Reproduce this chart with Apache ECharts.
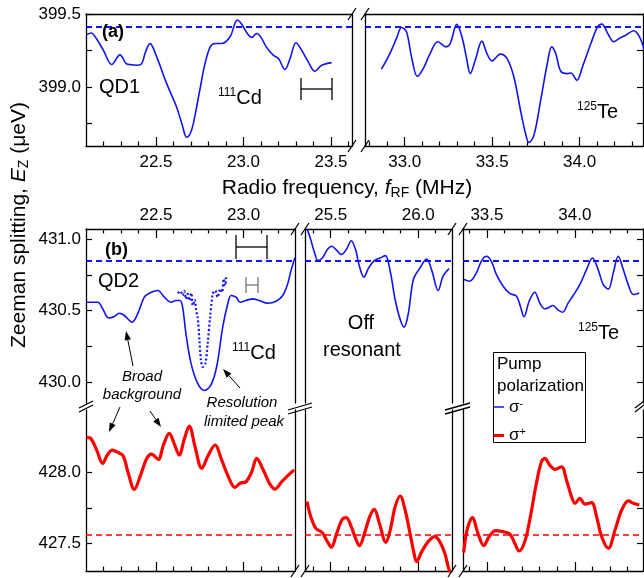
<!DOCTYPE html>
<html>
<head>
<meta charset="utf-8">
<title>Zeeman splitting vs RF frequency</title>
<script src="https://cdn.jsdelivr.net/npm/echarts@6.0.0/dist/echarts.min.js"></script>
<style>
  html, body { margin: 0; padding: 0; background: #fff; }
  #chart { width: 644px; height: 578px; }
</style>
</head>
<body>
<div id="chart"></div>
<script>
// ---- values ----
// (a) QD1, 111Cd window
const qd1CdFreq = [22.105, 22.13, 22.16, 22.20, 22.247, 22.294, 22.33, 22.36, 22.39, 22.418, 22.44, 22.466, 22.504, 22.561, 22.618, 22.65, 22.675, 22.695, 22.713, 22.75, 22.78, 22.81, 22.837, 22.875, 22.923, 22.965, 22.99, 23.02, 23.047, 23.075, 23.10, 23.13, 23.17, 23.20, 23.237, 23.266, 23.30, 23.332, 23.37, 23.408, 23.447, 23.504];
const qd1CdEz = [399.36, 399.37, 399.33, 399.25, 399.154, 399.22, 399.16, 399.152, 399.149, 399.16, 399.24, 399.297, 399.206, 399.023, 398.862, 398.74, 398.656, 398.68, 398.748, 398.977, 399.16, 399.275, 399.298, 399.298, 399.344, 399.459, 399.43, 399.37, 399.34, 399.366, 399.34, 399.275, 399.218, 399.195, 399.12, 399.195, 399.303, 399.252, 399.172, 399.108, 399.149, 399.167];
// (a) QD1, 125Te window
const qd1TeFreq = [32.867, 32.915, 32.953, 32.982, 33.01, 33.039, 33.072, 33.106, 33.145, 33.189, 33.237, 33.26, 33.298, 33.327, 33.352, 33.375, 33.403, 33.441, 33.47, 33.499, 33.547, 33.585, 33.624, 33.662, 33.691, 33.71, 33.738, 33.777, 33.815, 33.84, 33.863, 33.892, 33.93, 33.95, 33.984, 34.016, 34.064, 34.103, 34.127, 34.16, 34.195, 34.227, 34.265, 34.309, 34.342, 34.37];
const qd1TeEz = [399.122, 399.229, 399.333, 399.408, 399.378, 399.206, 399.073, 399.126, 399.229, 399.31, 399.275, 399.298, 399.429, 399.344, 399.206, 399.092, 399.183, 399.314, 399.229, 399.179, 399.225, 399.195, 399.069, 398.839, 398.679, 398.62, 398.667, 398.908, 399.161, 399.275, 399.229, 399.108, 399.092, 399.096, 399.046, 399.138, 399.298, 399.413, 399.431, 399.367, 399.31, 399.333, 399.356, 399.385, 399.344, 399.252];
const qd1Ref = 399.413;

// (b) QD2, sigma- pump
const qd2CdFreq = [22.1, 22.167, 22.195, 22.23, 22.262, 22.29, 22.319, 22.363, 22.395, 22.433, 22.462, 22.51, 22.548, 22.586, 22.614, 22.637, 22.652, 22.671, 22.7, 22.738, 22.776, 22.814, 22.847, 22.881, 22.91, 22.929, 22.957, 22.98, 23.014, 23.052, 23.09, 23.138, 23.186, 23.224, 23.252, 23.271, 23.294];
const qd2CdEz = [430.558, 430.558, 430.512, 430.447, 430.458, 430.481, 430.465, 430.419, 430.477, 430.593, 430.621, 430.64, 430.593, 430.558, 430.57, 430.57, 430.523, 430.337, 430.13, 429.99, 429.94, 429.98, 430.11, 430.384, 430.547, 430.605, 430.593, 430.558, 430.57, 430.581, 430.57, 430.551, 430.565, 430.605, 430.686, 430.779, 430.87];
const qd2CdFineFreq = [22.624, 22.639, 22.652, 22.662, 22.671, 22.681, 22.69, 22.702, 22.71, 22.721, 22.729, 22.738, 22.748, 22.757, 22.767, 22.782, 22.795, 22.809, 22.824, 22.839, 22.852, 22.866, 22.877, 22.887, 22.896, 22.9];
const qd2CdFineEz = [430.621, 430.635, 430.605, 430.635, 430.581, 430.616, 430.57, 430.621, 430.535, 430.574, 430.5, 430.453, 430.291, 430.151, 430.105, 430.128, 430.267, 430.453, 430.616, 430.64, 430.593, 430.651, 430.628, 430.721, 430.674, 430.733];
const qd2OffFreq = [25.367, 25.386, 25.405, 25.428, 25.452, 25.481, 25.504, 25.534, 25.56, 25.589, 25.617, 25.642, 25.664, 25.689, 25.717, 25.749, 25.783, 25.812, 25.84, 25.868, 25.897, 25.919, 25.944, 25.972, 26.01, 26.048, 26.076, 26.114, 26.142, 26.176];
const qd2OffEz = [431.065, 430.995, 430.914, 430.849, 430.867, 430.926, 430.949, 430.921, 430.891, 430.926, 430.988, 430.926, 430.809, 430.733, 430.798, 430.849, 430.867, 430.884, 430.774, 430.577, 430.437, 430.384, 430.484, 430.716, 430.798, 430.86, 430.786, 430.64, 430.74, 430.793];
const qd2TeFreq = [33.37, 33.402, 33.44, 33.468, 33.497, 33.525, 33.554, 33.592, 33.63, 33.668, 33.69, 33.711, 33.74, 33.772, 33.8, 33.829, 33.848, 33.876, 33.905, 33.93, 33.962, 33.99, 34.028, 34.066, 34.1, 34.132, 34.161, 34.19, 34.218, 34.246, 34.275, 34.303, 34.332, 34.366];
const qd2TeEz = [430.716, 430.705, 430.763, 430.844, 430.879, 430.844, 430.751, 430.67, 430.619, 430.6, 430.53, 430.456, 430.565, 430.628, 430.553, 430.512, 430.519, 430.535, 430.502, 430.488, 430.553, 430.605, 430.681, 430.786, 430.867, 430.786, 430.681, 430.651, 430.763, 430.879, 430.786, 430.681, 430.612, 430.623];
const qd2RefMinus = 430.853;

// (b) QD2, sigma+ pump
const qd2CdPlusFreq = [22.104, 22.127, 22.161, 22.195, 22.222, 22.25, 22.285, 22.313, 22.342, 22.376, 22.409, 22.447, 22.475, 22.513, 22.542, 22.576, 22.603, 22.633, 22.66, 22.69, 22.723, 22.761, 22.799, 22.837, 22.875, 22.913, 22.951, 22.98, 23.014, 23.047, 23.075, 23.113, 23.148, 23.18, 23.218, 23.256, 23.289];
const qd2CdPlusEz = [428.25, 428.243, 428.16, 428.066, 428.125, 428.16, 428.142, 428.118, 427.995, 427.882, 427.972, 428.101, 428.132, 428.094, 428.196, 428.278, 428.208, 428.125, 428.231, 428.33, 428.184, 428.031, 428.125, 428.196, 428.09, 427.972, 427.896, 427.925, 427.936, 428.007, 428.101, 428.019, 427.925, 427.884, 427.936, 427.983, 428.019];
const qd2OffPlusFreq = [25.364, 25.386, 25.415, 25.452, 25.481, 25.504, 25.534, 25.566, 25.589, 25.617, 25.642, 25.664, 25.693, 25.723, 25.749, 25.778, 25.815, 25.84, 25.868, 25.897, 25.925, 25.953, 25.972, 25.991, 26.02, 26.057, 26.095, 26.123, 26.152, 26.171, 26.184];
const qd2OffPlusEz = [427.795, 427.689, 427.606, 427.575, 427.512, 427.472, 427.571, 427.67, 427.682, 427.618, 427.535, 427.483, 427.571, 427.689, 427.741, 427.642, 427.507, 427.594, 427.759, 427.835, 427.736, 427.571, 427.453, 427.37, 427.441, 427.512, 427.547, 427.512, 427.429, 427.335, 427.288];
const qd2TePlusFreq = [33.368, 33.387, 33.417, 33.449, 33.482, 33.512, 33.55, 33.588, 33.63, 33.658, 33.683, 33.715, 33.747, 33.781, 33.81, 33.829, 33.857, 33.886, 33.924, 33.952, 33.981, 34.0, 34.028, 34.057, 34.095, 34.123, 34.152, 34.19, 34.228, 34.266, 34.304, 34.332, 34.366];
const qd2TePlusEz = [427.434, 427.594, 427.682, 427.571, 427.483, 427.547, 427.59, 427.583, 427.566, 427.5, 427.446, 427.512, 427.689, 427.925, 428.078, 428.101, 428.054, 428.024, 428.042, 427.948, 427.83, 427.783, 427.818, 427.778, 427.788, 427.689, 427.547, 427.465, 427.594, 427.736, 427.8, 427.783, 427.771];
const qd2RefPlus = 427.555;

// tick values
const aCdMajor = [22.5, 23.0, 23.5];
const aCdMinor = [22.2, 22.3, 22.4, 22.6, 22.7, 22.8, 22.9, 23.1, 23.2, 23.3, 23.4, 23.6];
const aTeMajor = [33.0, 33.5, 34.0];
const aTeMinor = [32.8, 32.9, 33.1, 33.2, 33.3, 33.4, 33.6, 33.7, 33.8, 33.9, 34.1, 34.2, 34.3];
const bCdMajor = [22.5, 23.0];
const bCdMinor = [22.2, 22.3, 22.4, 22.6, 22.7, 22.8, 22.9, 23.1, 23.2];
const bOffMajor = [25.5, 26.0];
const bOffMinor = [25.4, 25.6, 25.7, 25.8, 25.9, 26.1];
const bTeMajor = [33.5, 34.0];
const bTeMinor = [33.4, 33.6, 33.7, 33.8, 33.9, 34.1, 34.2, 34.3];
const aYLabels = [399.0, 399.5];
const aYTicks = [398.75, 399.0, 399.25, 399.5];
const bUpLabels = [430.0, 430.5, 431.0];
const bUpTicks = [430.0, 430.25, 430.5, 430.75, 431.0];
const bLowLabels = [427.5, 428.0];
const bLowTicks = [427.5, 427.75, 428.0, 428.25];

const FONT = '"Liberation Sans", Arial, sans-serif';
const BLUE = '#1212f2';
const RED = '#ff0000';

const grids = [], xAxes = [], yAxes = [], series = [];

function fmt1(v) { return Number(v).toFixed(1); }

function addGrid(left, top, width, height) {
  grids.push({left: left, top: top, width: width, height: height, outerBoundsMode: 'none'});
  return grids.length - 1;
}

function axisCfg(g, range, pos, o) {
  o = o || {};
  return {
    type: 'value', gridIndex: g, position: pos, min: range[0], max: range[1],
    axisLine: {show: !o.noLine, onZero: false, lineStyle: {color: '#000', width: 1.3}},
    axisTick: o.ticks ? {show: true, inside: true, length: o.len || 9, customValues: o.ticks,
      lineStyle: {color: '#000', width: 1.2}} : {show: false},
    axisLabel: o.labels ? {show: true, customValues: o.labels, margin: o.margin || 6, color: '#000',
      fontSize: 17, fontFamily: FONT, formatter: fmt1} : {show: false},
    splitLine: {show: false}
  };
}
function addX(g, range, pos, o) { xAxes.push(axisCfg(g, range, pos, o)); return xAxes.length - 1; }
function addY(g, range, pos, o) { yAxes.push(axisCfg(g, range, pos, o)); return yAxes.length - 1; }

function zip(f, v) { return f.map(function (x, i) { return [x, v[i]]; }); }

function curve(name, xi, yi, f, v, style, ref) {
  const s = {
    type: 'line', name: name, xAxisIndex: xi, yAxisIndex: yi, data: zip(f, v),
    symbol: 'none', showSymbol: false, smooth: 0.35, silent: true, z: 3,
    color: style.color, itemStyle: {color: style.color}, lineStyle: style
  };
  if (ref) {
    s.markLine = {symbol: 'none', silent: true, label: {show: false},
      lineStyle: ref.style, data: [{yAxis: ref.value}]};
  }
  series.push(s);
}

const blueLine = {color: BLUE, width: 1.6};
const redLine = {color: RED, width: 3.2};
const blueDash = {color: BLUE, width: 1.8, type: [6, 4]};
const redDash = {color: RED, width: 1.6, type: [6, 4]};

// ---- panel (a) ----
const aY = [398.596, 399.5];
let g = addGrid(86, 14, 266, 132);
let xr = [22.1, 23.62];
let xi = addX(g, xr, 'bottom', {ticks: aCdMajor, labels: aCdMajor, margin: 8});
addX(g, xr, 'bottom', {noLine: true, ticks: aCdMinor, len: 4.5});
addX(g, xr, 'top');
let yi = addY(g, aY, 'left', {ticks: aYTicks, labels: aYLabels, len: 6, margin: 5});
addY(g, aY, 'right');
curve('a1', xi, yi, qd1CdFreq, qd1CdEz, blueLine, {value: qd1Ref, style: blueDash});

g = addGrid(365, 14, 278, 132);
xr = [32.773, 34.362];
xi = addX(g, xr, 'bottom', {ticks: aTeMajor, labels: aTeMajor, margin: 8});
addX(g, xr, 'bottom', {noLine: true, ticks: aTeMinor, len: 4.5});
addX(g, xr, 'top');
yi = addY(g, aY, 'left');
addY(g, aY, 'right', {ticks: aYTicks, len: 6});
curve('a2', xi, yi, qd1TeFreq, qd1TeEz, blueLine, {value: qd1Ref, style: blueDash});

// ---- panel (b) ----
const bUpY = [429.853, 431.07];
const bLowY = [427.304, 428.444];
const cols = [
  {left: 86, width: 209, x: [22.1, 23.294], major: bCdMajor, minor: bCdMinor},
  {left: 305, width: 147, x: [25.353, 26.193], major: bOffMajor, minor: bOffMinor},
  {left: 463, width: 180, x: [33.364, 34.387], major: bTeMajor, minor: bTeMinor}
];
const upData = [[qd2CdFreq, qd2CdEz], [qd2OffFreq, qd2OffEz], [qd2TeFreq, qd2TeEz]];
const lowData = [[qd2CdPlusFreq, qd2CdPlusEz], [qd2OffPlusFreq, qd2OffPlusEz], [qd2TePlusFreq, qd2TePlusEz]];

cols.forEach(function (c, k) {
  // upper (sigma-)
  let gu = addGrid(c.left, 229, c.width, 174);
  let xu = addX(gu, c.x, 'top', {ticks: c.major, labels: c.major, margin: 5});
  addX(gu, c.x, 'top', {noLine: true, ticks: c.minor, len: 4.5});
  let yl = addY(gu, bUpY, 'left', k === 0 ? {ticks: bUpTicks, labels: bUpLabels, len: 6, margin: 5} : {});
  addY(gu, bUpY, 'right', k === 2 ? {ticks: bUpTicks, len: 6} : {});
  curve('σ-', xu, yl, upData[k][0], upData[k][1], blueLine, {value: qd2RefMinus, style: blueDash});
  if (k === 0) {
    series.push({type: 'line', name: 'fine', xAxisIndex: xu, yAxisIndex: yl,
      data: zip(qd2CdFineFreq, qd2CdFineEz), symbol: 'none', smooth: 0.3, silent: true, z: 3,
      color: BLUE, lineStyle: {color: BLUE, width: 2.2, type: [2, 2.2]}});
  }
  // lower (sigma+)
  let gl = addGrid(c.left, 410, c.width, 161);
  let xb = addX(gl, c.x, 'bottom', {ticks: c.major});
  addX(gl, c.x, 'bottom', {noLine: true, ticks: c.minor, len: 4.5});
  let yb = addY(gl, bLowY, 'left', k === 0 ? {ticks: bLowTicks, labels: bLowLabels, len: 6, margin: 5} : {});
  addY(gl, bLowY, 'right', k === 2 ? {ticks: bLowTicks, len: 6} : {});
  curve('σ+', xb, yb, lowData[k][0], lowData[k][1], redLine, {value: qd2RefPlus, style: redDash});
});

// ---- annotations ----
function txt(x, y, text, size, o) {
  return {type: 'text', x: x, y: y, silent: true, z: 20,
    style: Object.assign({text: text, fill: '#000', fontSize: size, fontFamily: FONT,
      align: 'left', verticalAlign: 'middle'}, o || {})};
}
function seg(x1, y1, x2, y2, color, w) {
  return {type: 'line', silent: true, z: 20, shape: {x1: x1, y1: y1, x2: x2, y2: y2},
    style: {stroke: color || '#000', lineWidth: w || 1.3}};
}
function arrow(x1, y1, x2, y2) {
  const a = Math.atan2(y2 - y1, x2 - x1), L = 9, W = 3.2;
  const bx = x2 - L * Math.cos(a), by = y2 - L * Math.sin(a);
  const px = -Math.sin(a) * W, py = Math.cos(a) * W;
  return [seg(x1, y1, bx, by, '#000', 1),
    {type: 'polygon', silent: true, z: 20, shape: {points: [[x2, y2], [bx + px, by + py], [bx - px, by - py]]},
      style: {fill: '#000'}}];
}
function slash(x, y) { return seg(x - 4, y + 6, x + 4, y - 6); }
function ybreak(x1, x2, y) {
  return [seg(x1, y + 1, x2, y - 6), seg(x1, y + 5, x2, y - 2)];
}
function bar(x1, x2, y, h, color) {
  return [seg(x1, y, x2, y, color), seg(x1, y - h, x1, y + h, color), seg(x2, y - h, x2, y + h, color)];
}
const nucRich = {
  s: {fontSize: 12, fontFamily: FONT, verticalAlign: 'top', lineHeight: 22},
  n: {fontSize: 20, fontFamily: FONT, lineHeight: 22}
};
const titleRich = {
  n: {fontSize: 21, fontFamily: FONT, lineHeight: 25},
  i: {fontSize: 21, fontFamily: FONT, fontStyle: 'italic', lineHeight: 25},
  b: {fontSize: 14, fontFamily: FONT, verticalAlign: 'bottom', lineHeight: 25}
};

let els = [];
// axis break marks
[352, 365].forEach(function (x) { els.push(slash(x, 14), slash(x, 146)); });
[295, 305, 452, 463].forEach(function (x) { els.push(slash(x, 229), slash(x, 571)); });
els = els.concat(ybreak(79, 93, 407), ybreak(288, 312, 409), ybreak(445, 470, 409), ybreak(635, 644, 407));

// resolution bars
els = els.concat(bar(301, 332, 89, 11, '#000'), bar(236, 267, 247, 12, '#000'), bar(246, 258, 285, 8, '#777'));

// arrows
els = els.concat(arrow(133, 366, 126, 331), arrow(240, 388, 223, 369), arrow(120, 407, 109, 432), arrow(150, 411, 161, 427));

// labels
els.push(
  txt(102, 32, '(a)', 18, {fontWeight: 'bold'}),
  txt(99, 87, 'QD1', 20),
  txt(218, 98, '{s|111}{n|Cd}', 20, {rich: nucRich}),
  txt(577, 112, '{s|125}{n|Te}', 20, {rich: nucRich}),
  txt(347, 188, '{n|Radio frequency, }{i|f}{b|RF}{n| (MHz)}', 21, {align: 'center', rich: titleRich}),
  {type: 'text', x: 19, y: 225, rotation: Math.PI / 2, silent: true, z: 20,
    style: {text: '{n|Zeeman splitting, }{i|E}{b|Z}{n| (μeV)}', fill: '#000', align: 'center', verticalAlign: 'middle',
      rich: titleRich}},
  txt(105, 250, '(b)', 18, {fontWeight: 'bold'}),
  txt(98, 281, 'QD2', 20),
  txt(232, 353, '{s|111}{n|Cd}', 20, {rich: nucRich}),
  txt(142, 377, 'Broad', 15, {align: 'center', fontStyle: 'italic'}),
  txt(142, 395, 'background', 15, {align: 'center', fontStyle: 'italic'}),
  txt(242, 403, 'Resolution', 15, {align: 'center', fontStyle: 'italic'}),
  txt(244, 422, 'limited peak', 15, {align: 'center', fontStyle: 'italic'}),
  txt(361, 323, 'Off', 20, {align: 'center'}),
  txt(362, 350, 'resonant', 20, {align: 'center'}),
  txt(578, 333, '{s|125}{n|Te}', 20, {rich: nucRich}),
  {type: 'rect', silent: true, z: 15, shape: {x: 493.5, y: 352.5, width: 92, height: 90},
    style: {fill: '#fff', stroke: '#000', lineWidth: 1}},
  txt(497, 364, 'Pump', 17),
  txt(497, 386, 'polarization', 17)
);

// legend swatches: thin blue, thick red (zero-area subpaths pin the 10x12 box)
const thinIcon = 'path://M0,0L10,0Z M0,5.2L10,5.2L10,6.8L0,6.8Z M0,12L10,12Z';
const thickIcon = 'path://M0,0L10,0Z M0,4.4L10,4.4L10,7.6L0,7.6Z M0,12L10,12Z';

const chart = echarts.init(document.getElementById('chart'), null, {renderer: 'canvas'});
chart.setOption({
  animation: false,
  backgroundColor: '#fff',
  grid: grids,
  xAxis: xAxes,
  yAxis: yAxes,
  legend: {
    data: [
      {name: 'σ-', icon: thinIcon, itemStyle: {color: BLUE}},
      {name: 'σ+', icon: thickIcon, itemStyle: {color: RED}}
    ],
    orient: 'vertical', left: 494, top: 398, z: 30,
    itemWidth: 10, itemHeight: 12, itemGap: 11, selectedMode: false, padding: 0,
    textStyle: {color: '#000', fontSize: 17, fontFamily: FONT,
      rich: {g: {fontSize: 17, fontFamily: FONT, lineHeight: 18},
             s: {fontSize: 11, fontFamily: FONT, verticalAlign: 'top', lineHeight: 18}}},
    formatter: function (n) { return n === 'σ-' ? '{g|σ}{s|-}' : '{g|σ}{s|+}'; }
  },
  series: series,
  graphic: {elements: els}
});
</script>
</body>
</html>
